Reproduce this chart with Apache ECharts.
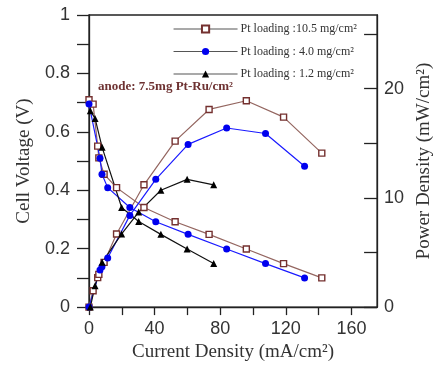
<!DOCTYPE html>
<html>
<head>
<meta charset="utf-8">
<script src="https://cdn.jsdelivr.net/npm/echarts@6/dist/echarts.min.js"></script>
<style>
  html, body { margin: 0; padding: 0; background: #fff; }
  #chart { width: 442px; height: 367px; }
</style>
</head>
<body>
<div id="chart"></div>
<script>
// Polarisation (V) and power-density (mW/cm²) curves for three cathode Pt loadings
const seriesNames = ['Pt loading :10.5 mg/cm²', 'Pt loading : 4.0 mg/cm²', 'Pt loading : 1.2 mg/cm²'];

const currentHigh = [0, 2.5, 5.3, 6.0, 9.2, 16.8, 33.5, 52.5, 73.2, 95.9, 118.6, 141.9];
const voltageHigh = [0.71, 0.695, 0.551, 0.511, 0.455, 0.409, 0.341, 0.292, 0.249, 0.199, 0.149, 0.100];
const powerHigh   = [0, 1.5, 2.7, 3.0, 4.1, 6.7, 11.2, 15.2, 18.1, 18.9, 17.4, 14.1];

const currentMid = [0, 6.7, 7.9, 11.4, 24.9, 40.7, 60.4, 83.9, 107.6, 131.4];
const voltageMid = [0.695, 0.51, 0.455, 0.409, 0.341, 0.292, 0.249, 0.199, 0.149, 0.100];
const powerMid   = [0, 3.4, 3.7, 4.5, 8.4, 11.7, 14.9, 16.4, 15.9, 12.9];

const currentLow = [0.8, 3.7, 8.0, 19.9, 30.3, 43.8, 59.8, 76.0];
const voltageLow = [0.672, 0.646, 0.547, 0.341, 0.293, 0.249, 0.199, 0.149];
const powerLow   = [0, 1.95, 4.1, 6.7, 8.7, 10.7, 11.7, 11.2];

const xTickLabels = [0, 40, 80, 120, 160];
const voltTickLabels = [0, 0.2, 0.4, 0.6, 0.8, 1];
const powerTickLabels = [0, 10, 20];

const pairs = (xs, ys) => xs.map((x, i) => [x, ys[i]]);

const serif = 'Liberation Serif';
const sans = 'Liberation Sans';
const axisColor = '#222';

const styles = [
  { line: '#946660', border: '#74302f', fill: '#ffffff', symbol: 'rect', size: 6, bw: 1.4 },
  { line: '#1a1aff', border: '#0000ee', fill: '#0000ee', symbol: 'circle', size: 7, bw: 0 },
  { line: '#111111', border: '#000000', fill: '#000000', symbol: 'triangle', size: 7, bw: 0 }
];

function makeSeries(name, data, st, yIndex) {
  return {
    name: name,
    type: 'line',
    yAxisIndex: yIndex,
    data: data,
    symbol: st.symbol,
    symbolSize: st.size,
    showAllSymbol: true,
    lineStyle: { color: st.line, width: 1.2 },
    itemStyle: { color: st.fill, borderColor: st.border, borderWidth: st.bw },
    emphasis: { disabled: true },
    animation: false,
    z: 3
  };
}

const chart = echarts.init(document.getElementById('chart'), null, { renderer: 'canvas' });

chart.setOption({
  backgroundColor: '#fff',
  animation: false,
  grid: {
    left: 89, right: 57, top: 15, bottom: 57,
    show: true, borderColor: axisColor, borderWidth: 1.3, backgroundColor: 'transparent'
  },
  legend: {
    data: seriesNames,
    orient: 'vertical',
    left: 173,
    top: 23,
    padding: 0,
    itemWidth: 64,
    itemHeight: 9,
    itemGap: 10.5,
    lineStyle: { color: '#555', width: 1.1 },
    textStyle: { fontFamily: serif, fontSize: 12, color: '#333', padding: [0, 0, 0, -2] },
    selectedMode: false
  },
  graphic: [{
    type: 'text',
    left: 98,
    top: 80,
    style: {
      text: 'anode: 7.5mg Pt-Ru/cm²',
      font: 'bold 13px "Liberation Serif"',
      fill: '#6e3232'
    }
  }],
  xAxis: {
    type: 'value',
    min: 0,
    max: 175.6,
    interval: 20,
    name: 'Current Density (mA/cm²)',
    nameLocation: 'middle',
    nameGap: 34,
    nameTextStyle: { fontFamily: serif, fontSize: 19, color: '#333' },
    axisLine: { show: true, lineStyle: { color: axisColor, width: 1.3 } },
    axisTick: { show: true, inside: false, length: 8, lineStyle: { color: axisColor, width: 1.3 } },
    axisLabel: {
      fontFamily: sans, fontSize: 18, color: '#333', margin: 13,
      showMaxLabel: false,
      formatter: v => xTickLabels.includes(v) ? String(v) : ''
    },
    splitLine: { show: false }
  },
  yAxis: [{
    type: 'value',
    position: 'left',
    min: 0,
    max: 1,
    interval: 0.1,
    name: 'Cell Voltage (V)',
    nameLocation: 'middle',
    nameGap: 55,
    nameRotate: 90,
    nameTextStyle: { fontFamily: serif, fontSize: 19, color: '#333' },
    axisLine: { show: true, lineStyle: { color: axisColor, width: 1.3 } },
    axisTick: { show: true, inside: false, length: 12, lineStyle: { color: axisColor, width: 1.3 } },
    axisLabel: {
      fontFamily: sans, fontSize: 18, color: '#333', margin: 19,
      formatter: v => {
        const r = Math.round(v * 10) / 10;
        return voltTickLabels.some(t => Math.abs(t - r) < 1e-6) ? String(r) : '';
      }
    },
    splitLine: { show: false }
  }, {
    type: 'value',
    position: 'right',
    min: 0,
    max: 26.75,
    interval: 5,
    name: 'Power Density (mW/cm²)',
    nameLocation: 'middle',
    nameGap: 29,
    nameRotate: 90,
    nameTextStyle: { fontFamily: serif, fontSize: 19, color: '#333' },
    axisLine: { show: true, lineStyle: { color: axisColor, width: 1.3 } },
    axisTick: { show: true, inside: true, length: 13, lineStyle: { color: axisColor, width: 1.3 } },
    axisLabel: {
      fontFamily: sans, fontSize: 18, color: '#333', margin: 7,
      showMaxLabel: false,
      formatter: v => powerTickLabels.includes(v) ? String(v) : ''
    },
    splitLine: { show: false }
  }],
  series: [
    makeSeries(seriesNames[0], pairs(currentHigh, voltageHigh), styles[0], 0),
    makeSeries(seriesNames[1], pairs(currentMid, voltageMid), styles[1], 0),
    makeSeries(seriesNames[2], pairs(currentLow, voltageLow), styles[2], 0),
    makeSeries(seriesNames[0], pairs(currentHigh, powerHigh), styles[0], 1),
    makeSeries(seriesNames[1], pairs(currentMid, powerMid), styles[1], 1),
    makeSeries(seriesNames[2], pairs(currentLow, powerLow), styles[2], 1)
  ]
});
</script>
</body>
</html>
